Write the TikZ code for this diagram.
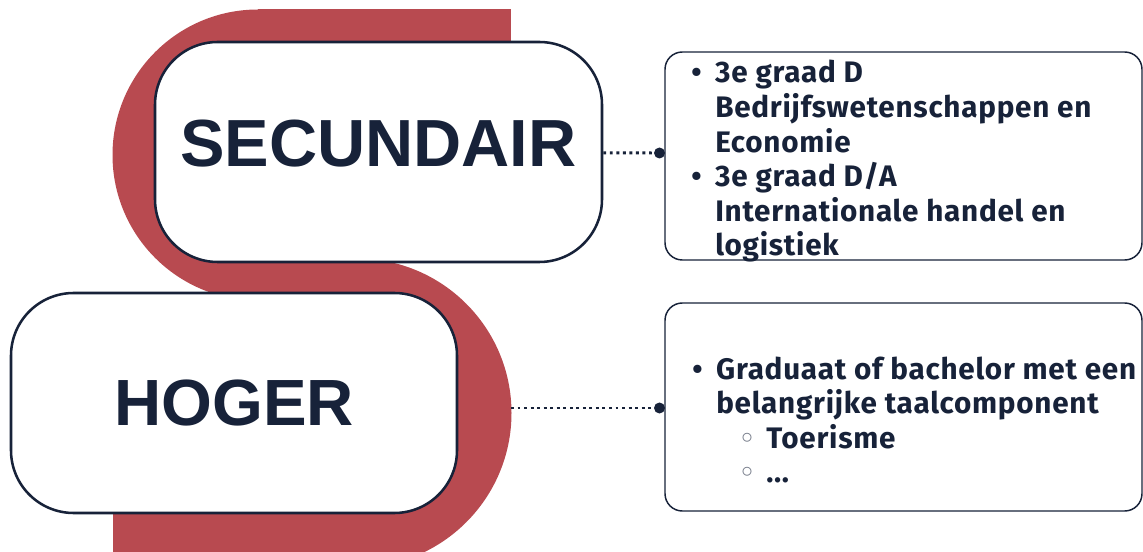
\documentclass[tikz,border=0pt]{standalone}
\usepackage{fontspec}
\newfontfamily\headfont{Liberation Sans}
\newfontfamily\listfont[LetterSpace=2.5]{Fira Sans}
\definecolor{navy}{HTML}{172239}
\definecolor{brick}{HTML}{B84A50}
\newcommand{\subbul}{\makebox[37.5pt][l]{\hspace*{18.9pt}\raisebox{3.5pt}{\color{navy!60}\fontsize{16pt}{16pt}\selectfont$\circ$}}}

\begin{document}
\begin{tikzpicture}[x=0.75pt,y=-0.75pt,
        bigbox/.style={draw=navy,line width=1.9pt,fill=white,rounded corners=47pt,inner sep=0pt,text=navy,
            font=\headfont\bfseries\fontsize{50pt}{60pt}\selectfont},
        listbox/.style={draw=navy,line width=1.1pt,fill=white,rounded corners=13pt,
            minimum width=357.75pt,minimum height=156pt},
        listtext/.style={anchor=base west,inner sep=0pt,text=navy,
            font=\listfont\bfseries\fontsize{22.25pt}{25.9pt}\selectfont},
        dotline/.style={navy,line width=2.2pt,dash pattern=on 2.2pt off 2.7pt},
        endpt/.style={circle,fill=navy,inner sep=0pt,minimum size=8.25pt}]
    \useasboundingbox (0,0) rectangle (1143,552);
    \begin{scope}
        \clip (0,0) rectangle (1143,552);
        \fill[brick] (258,155) circle[radius=145.5];
        \fill[brick] (258,9.5) rectangle (511,100);
        \fill[brick] (258,200) rectangle (357,300.5);
        \fill[brick] (357,413) circle[radius=154.5];
        \fill[brick] (113,413) rectangle (357,567.5);
    \end{scope}
    \coordinate (redEdge) at (511,408);

    \node[bigbox,minimum width=335.25pt,minimum height=165pt,text depth=13.5pt] (secBox) at (378.5,152) {SECUNDAIR};
    \node[bigbox,minimum width=334.5pt,minimum height=165pt,
        font=\headfont\bfseries\fontsize{49pt}{58pt}\selectfont] (hogBox) at (234,403) {HOGER};

    \node[listbox] (secList) at (903.5,156) {};
    \node[listbox] (hogList) at (903.5,407) {};

    \node[listtext] (secItems) at (691,83) {\begin{tabular}[t]{@{}p{18pt}@{}l@{}}
        \textbullet & 3e graad D\\
        & Bedrijfswetenschappen en\\
        & Economie\\
        \textbullet & 3e graad D/A\\
        & Internationale handel en\\
        & logistiek
    \end{tabular}};
    \node[listtext] (hogItems) at (692,379) {\begin{tabular}[t]{@{}p{18pt}@{}l@{}}
        \textbullet & Graduaat of bachelor met een\\
        & belangrijke taalcomponent\\
        & \subbul Toerisme\\
        & \subbul ...
    \end{tabular}};

    \node[endpt] (secDot) at (659.5,153) {};
    \node[endpt] (hogDot) at (659.5,408) {};
    \draw[dotline] (secBox) -- (secDot);
    \draw[dotline] (redEdge) -- (hogDot);
\end{tikzpicture}
\end{document}
